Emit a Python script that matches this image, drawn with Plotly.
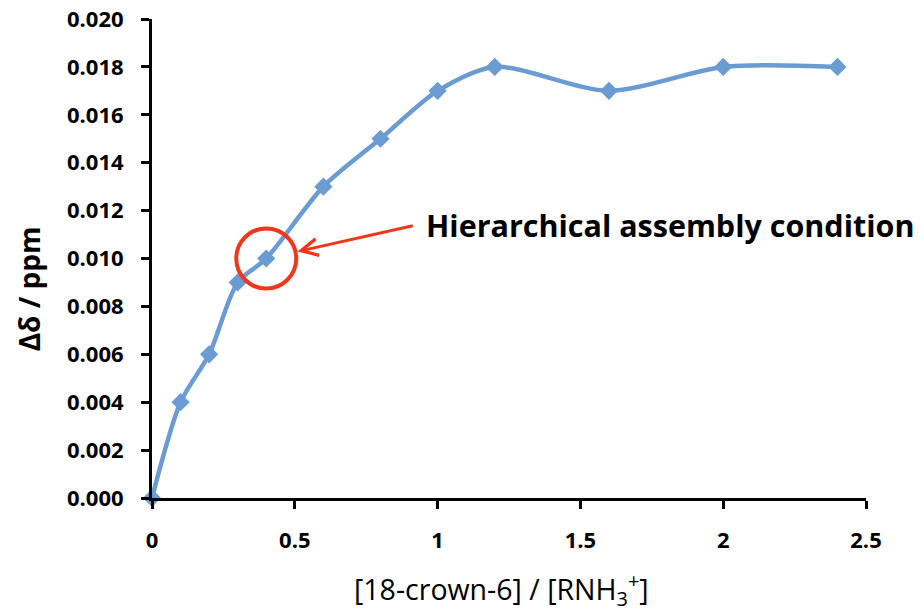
import plotly.graph_objects as go

ratio = [0, 0.1, 0.2, 0.3, 0.4, 0.6, 0.8, 1.0, 1.2, 1.6, 2.0, 2.4]
shift = [0.000, 0.004, 0.006, 0.009, 0.010, 0.013, 0.015, 0.017, 0.018, 0.017, 0.018, 0.018]
x_ticks = [0, 0.5, 1, 1.5, 2, 2.5]
x_ticklabels = ["0", "0.5", "1", "1.5", "2", "2.5"]
y_ticks = [0.000, 0.002, 0.004, 0.006, 0.008, 0.010, 0.012, 0.014, 0.016, 0.018, 0.020]
y_ticklabels = ["%.3f" % v for v in y_ticks]
highlight_x, highlight_y = 0.4, 0.010
label_text = "Hierarchical assembly condition"
x_title = "[18-crown-6] / [RNH<sub>3</sub><sup>+</sup>]"
y_title = "Δδ / ppm"

FONT = "Open Sans"
blue = "#6a9bd3"
red = "#f2361a"

fig = go.Figure()
fig.add_trace(go.Scatter(
    x=ratio, y=shift, mode="lines+markers",
    line=dict(color=blue, width=4.5, shape="spline", smoothing=0.8),
    marker=dict(symbol="diamond", size=14, color=blue),
    showlegend=False, cliponaxis=False,
))

fig.add_shape(type="circle", xref="x", yref="y",
              xsizemode="pixel", ysizemode="pixel",
              xanchor=highlight_x, yanchor=highlight_y,
              x0=-30, x1=30, y0=-30, y1=30,
              line=dict(color=red, width=4))

fig.add_annotation(x=highlight_x, y=highlight_y, xref="x", yref="y",
                   ax=148, ay=-33, text="", showarrow=True,
                   arrowhead=5, arrowsize=1.1, arrowwidth=3, arrowcolor=red,
                   standoff=32)
fig.add_annotation(x=0.952, y=0.01140, xref="x", yref="y",
                   text=label_text, showarrow=False, xanchor="left", yanchor="middle",
                   font=dict(family=FONT, size=30.5, color="black", weight="bold"))

# axis titles
fig.add_annotation(x=0.490, y=-0.192, xref="paper", yref="paper",
                   text=x_title, showarrow=False, xanchor="center", yanchor="middle",
                   font=dict(family=FONT, size=28.5, color="black"))
fig.add_annotation(x=-0.172, y=0.436, xref="paper", yref="paper",
                   text=y_title, showarrow=False, textangle=-90,
                   xanchor="center", yanchor="middle",
                   font=dict(family=FONT, size=28, color="black", weight="bold"))

axis_common = dict(showline=True, linecolor="black", linewidth=3,
                   ticks="outside", ticklen=8, tickwidth=3, tickcolor="black",
                   showgrid=False, zeroline=False, ticklabelstandoff=13,
                   automargin=False,
                   tickfont=dict(family=FONT, size=22, color="black", weight="bold"))

fig.update_xaxes(range=[0, 2.5], tickvals=x_ticks, ticktext=x_ticklabels, **axis_common)
fig.update_yaxes(range=[0, 0.020], tickvals=y_ticks, ticktext=y_ticklabels, **axis_common)

fig.update_layout(width=921, height=616, margin=dict(l=152, r=55, t=19, b=118),
                  plot_bgcolor="white", paper_bgcolor="white")

fig.write_html("out.html")
